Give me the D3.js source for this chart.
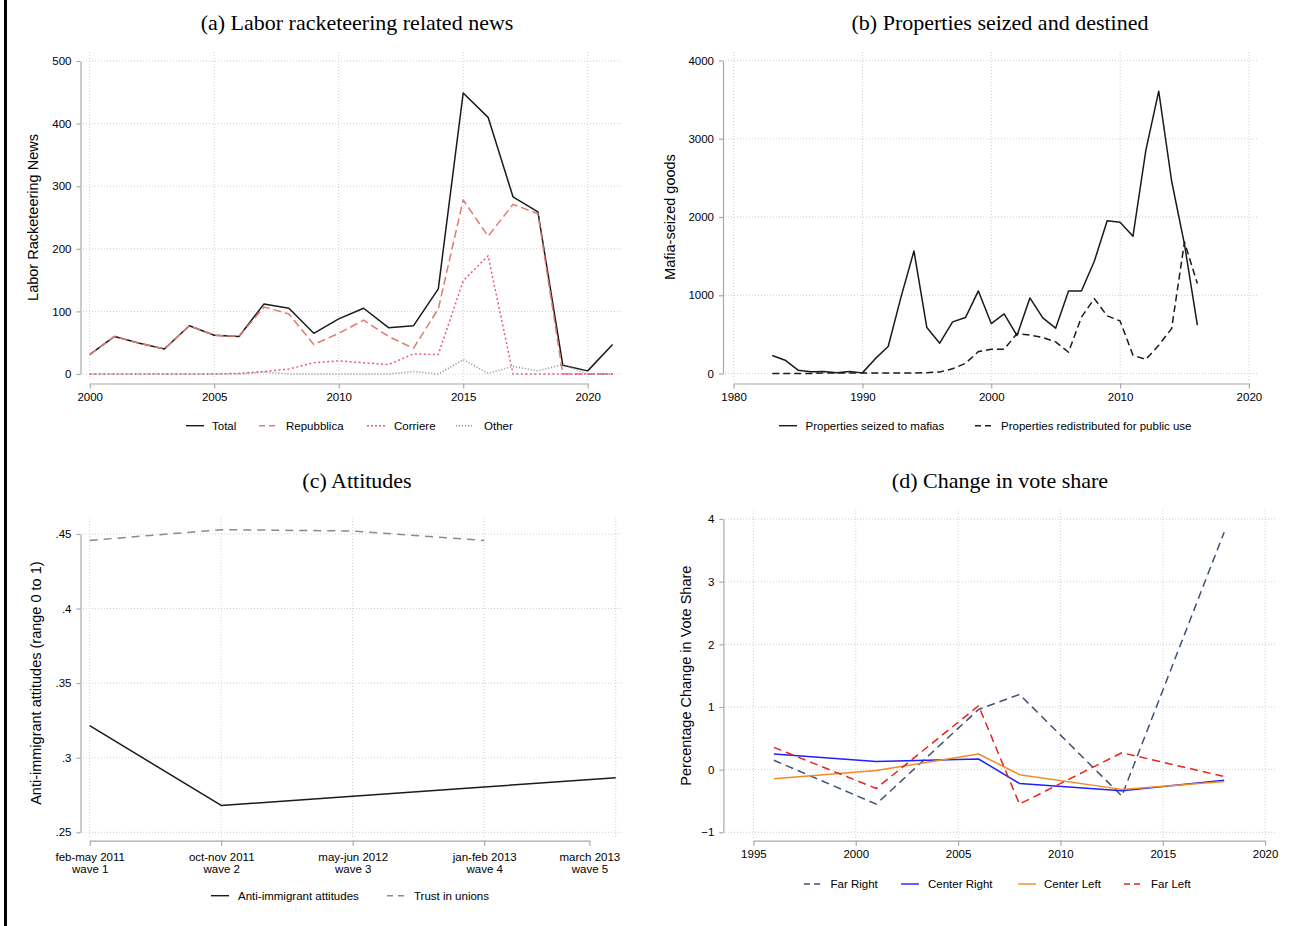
<!DOCTYPE html>
<html>
<head>
<meta charset="utf-8">
<script src="https://cdn.jsdelivr.net/npm/d3@7"></script>
<style>
  body { margin: 0; background: #fff; }
  svg text { font-family: "Liberation Sans", Arial, Helvetica, sans-serif; fill: #000; }
  .title { font-family: "Liberation Serif", "Times New Roman", serif; font-size: 22px; }
  .grid { stroke: #cfcfcf; stroke-width: 1; stroke-dasharray: 1,2; }
  .axis path, .axis line { stroke: #a8a8a8; stroke-width: 1.2; }
  .axis text { font-size: 11.5px; }
</style>
</head>
<body>
<svg id="chart" width="1292" height="926"></svg>
<script>
/* ---- data ---- */

// (a) labor racketeering news
var newsYears = [2000, 2001, 2002, 2003, 2004, 2005, 2006, 2007, 2008, 2009, 2010,
                 2011, 2012, 2013, 2014, 2015, 2016, 2017, 2018, 2019, 2020, 2021];
var newsTotal = [31, 60, 49, 40, 77, 62, 60, 112, 105, 65, 88, 105, 74, 77, 136, 449, 410, 283, 259, 14, 5, 47];
var newsRepubblica = [31, 60, 49, 40, 77, 62, 60, 107, 96, 47, 65, 86, 60, 41, 104, 278, 220, 271, 256, 0, 0, 0];
var newsCorriere = [0, 0, 0, 0, 0, 0, 1, 4, 8, 18, 21, 18, 15, 32, 31, 149, 189, 0, 0, 0, 0, 0];
var newsOther = [0, 0, 0, 0, 0, 0, 0, 3, 0, 0, 0, 0, 0, 4, 0, 23, 1, 12, 5, 15, 0, 0];
var newsXTicks = [2000, 2005, 2010, 2015, 2020];
var newsYTicks = [0, 100, 200, 300, 400, 500];

// (b) properties seized and destined
var goodsYears = [1983, 1984, 1985, 1986, 1987, 1988, 1989, 1990, 1991, 1992, 1993, 1994,
                  1995, 1996, 1997, 1998, 1999, 2000, 2001, 2002, 2003, 2004, 2005, 2006,
                  2007, 2008, 2009, 2010, 2011, 2012, 2013, 2014, 2015, 2016];
var goodsSeized = [230, 170, 43, 21, 25, 10, 25, 8, 190, 345, 980, 1566,
                   587, 387, 660, 715, 1055, 638, 762, 485, 966, 711, 579, 1055,
                   1055, 1434, 1953, 1932, 1753, 2851, 3608, 2460, 1650, 617];
var goodsRedistributed = [0, 0, 0, 0, 5, 5, 5, 5, 5, 5, 5, 5,
                          10, 20, 60, 130, 280, 310, 310, 510, 490, 460, 404, 272,
                          720, 957, 736, 672, 234, 179, 362, 574, 1681, 1149];
var goodsXTicks = [1980, 1990, 2000, 2010, 2020];
var goodsYTicks = [0, 1000, 2000, 3000, 4000];

// (c) attitudes by survey wave
var waveIndex = [1, 2, 3, 4, 5];
var waveTickPos = [1, 2, 3, 4, 4.8];
var waveLabels = [["feb-may 2011", "wave 1"], ["oct-nov 2011", "wave 2"], ["may-jun 2012", "wave 3"],
                  ["jan-feb 2013", "wave 4"], ["march 2013", "wave 5"]];
var antiImmigrant = [0.3215, 0.268, 0.2741, 0.2804, 0.2866];
var trustUnions = [0.4457, 0.4529, 0.4520, 0.4457];
var attitudeYTicks = [0.25, 0.3, 0.35, 0.4, 0.45];

// (d) change in vote share
var electionYears = [1996, 2001, 2006, 2008, 2013, 2018];
var farRight = [0.15, -0.55, 0.96, 1.20, -0.42, 3.79];
var centerRight = [0.25, 0.13, 0.17, -0.22, -0.335, -0.17];
var centerLeft = [-0.145, -0.015, 0.25, -0.08, -0.315, -0.19];
var farLeft = [0.355, -0.30, 1.02, -0.55, 0.27, -0.11];
var voteXTicks = [1995, 2000, 2005, 2010, 2015, 2020];
var voteYTicks = [-1, 0, 1, 2, 3, 4];

/* ---- helpers ---- */
var svg = d3.select('#chart');

// black rule on the left edge of the figure
svg.append('rect').attr('x', 4).attr('y', 0).attr('width', 3).attr('height', 926).attr('fill', '#000');

function makePanel(p) {
  var g = svg.append('g');

  // dotted grid
  g.append('g').selectAll('line').data(p.yTicks).enter().append('line')
    .attr('class', 'grid')
    .attr('x1', p.box[0]).attr('x2', p.box[1])
    .attr('y1', function (d) { return p.y(d); })
    .attr('y2', function (d) { return p.y(d); });
  g.append('g').selectAll('line').data(p.xGrid || p.xTicks).enter().append('line')
    .attr('class', 'grid')
    .attr('x1', function (d) { return p.x(d); })
    .attr('x2', function (d) { return p.x(d); })
    .attr('y1', p.box[2]).attr('y2', p.box[3]);

  // axes
  g.append('g').attr('class', 'axis')
    .attr('transform', 'translate(' + p.yAxisX + ',0)')
    .call(d3.axisLeft(p.y).tickValues(p.yTicks).tickSize(4).tickSizeOuter(0)
      .tickPadding(5).tickFormat(p.yFormat || d3.format('d')));
  var xa = g.append('g').attr('class', 'axis')
    .attr('transform', 'translate(0,' + p.xAxisY + ')')
    .call(d3.axisBottom(p.x).tickValues(p.xTicks).tickSize(5).tickSizeOuter(0)
      .tickPadding(4).tickFormat(p.xFormat || d3.format('d')));
  g.selectAll('.axis .domain').attr('stroke', '#a8a8a8');

  // axis title
  var yMid = (p.y.range()[0] + p.y.range()[1]) / 2;
  g.append('text')
    .attr('transform', 'translate(' + p.yTitleX + ',' + yMid + ') rotate(-90)')
    .attr('text-anchor', 'middle')
    .style('font-size', '14.5px')
    .text(p.yTitle);

  // panel title
  g.append('text').attr('class', 'title')
    .attr('x', p.titleX).attr('y', p.titleY)
    .attr('text-anchor', 'middle')
    .text(p.title);

  g.xAxis = xa;
  return g;
}

function addLine(g, p, xs, ys, color, dash, width) {
  var pts = xs.map(function (d, i) { return [d, ys[i]]; });
  var line = d3.line()
    .x(function (d) { return p.x(d[0]); })
    .y(function (d) { return p.y(d[1]); });
  g.append('path')
    .datum(pts)
    .attr('d', line)
    .attr('fill', 'none')
    .attr('stroke', color)
    .attr('stroke-width', width || 1.5)
    .attr('stroke-dasharray', dash || null)
    .attr('stroke-linejoin', 'round');
}

// legend items: [x of key line start, label, color, dash, x of text]
function addLegend(g, items, y) {
  items.forEach(function (it) {
    g.append('line')
      .attr('x1', it[0]).attr('x2', it[0] + 18)
      .attr('y1', y).attr('y2', y)
      .attr('stroke', it[2]).attr('stroke-width', 1.4)
      .attr('stroke-dasharray', it[3] || null);
    g.append('text')
      .attr('x', it[4]).attr('y', y).attr('dy', '0.35em')
      .style('font-size', '11.5px')
      .text(it[1]);
  });
}

/* ---- (a) ---- */
var pa = {
  x: d3.scaleLinear().domain([2000, 2020]).range([89.7, 587.7]),
  y: d3.scaleLinear().domain([0, 500]).range([374, 61]),
  xTicks: newsXTicks, yTicks: newsYTicks,
  box: [83, 621, 52, 381],
  yAxisX: 80.5, xAxisY: 383.5,
  yTitle: 'Labor Racketeering News', yTitleX: 38,
  title: '(a) Labor racketeering related news', titleX: 357, titleY: 30
};
var ga = makePanel(pa);
// drawn in the order of the legend, so later series sit on top
addLine(ga, pa, newsYears, newsTotal, '#1a1a1a');
addLine(ga, pa, newsYears, newsRepubblica, '#e07b6e', '8,4');
addLine(ga, pa, newsYears, newsCorriere, '#e8559a', '2,2.5');
addLine(ga, pa, newsYears, newsOther, '#8a8a8a', '1,2');
addLegend(ga, [
  [186, 'Total', '#1a1a1a', null, 212],
  [259, 'Repubblica', '#e07b6e', '6,4', 286],
  [367, 'Corriere', '#e8559a', '2,2', 394],
  [456, 'Other', '#8a8a8a', '1,2', 484]
], 425.7);

/* ---- (b) ---- */
var pb = {
  x: d3.scaleLinear().domain([1980, 2020]).range([733.6, 1248.9]),
  y: d3.scaleLinear().domain([0, 4000]).range([373.5, 60.5]),
  xTicks: goodsXTicks, yTicks: goodsYTicks,
  box: [725, 1258, 52, 381],
  yAxisX: 723, xAxisY: 383.5,
  yTitle: 'Mafia-seized goods', yTitleX: 675,
  title: '(b) Properties seized and destined', titleX: 1000, titleY: 30
};
var gb = makePanel(pb);
addLine(gb, pb, goodsYears, goodsSeized, '#1a1a1a');
addLine(gb, pb, goodsYears, goodsRedistributed, '#1a1a1a', '7,4');
addLegend(gb, [
  [779, 'Properties seized to mafias', '#1a1a1a', null, 805.5],
  [975, 'Properties redistributed for public use', '#1a1a1a', '6,4', 1001]
], 425.7);

/* ---- (c) ---- */
var pc = {
  x: d3.scaleLinear().domain([1, 4.8]).range([89.7, 89.7 + 3.8 * 131.5]),
  y: d3.scaleLinear().domain([0.25, 0.45]).range([832.3, 534]),
  xTicks: waveTickPos, xGrid: waveIndex, yTicks: attitudeYTicks,
  box: [83, 621, 518, 838],
  yAxisX: 80.5, xAxisY: 840.7,
  yFormat: function (d) { return d3.format('.2~f')(d).replace(/^0/, ''); },
  xFormat: function (d, i) { return ''; },
  yTitle: 'Anti-immigrant attitudes (range 0 to 1)', yTitleX: 41,
  title: '(c) Attitudes', titleX: 357, titleY: 487.5
};
var gc = makePanel(pc);
// two-line wave labels
gc.xAxis.selectAll('.tick text').each(function (d, i) {
  var t = d3.select(this).text('').attr('dy', null);
  t.append('tspan').attr('x', 0).attr('dy', '1.0em').text(waveLabels[i][0]);
  t.append('tspan').attr('x', 0).attr('dy', '1.0em').text(waveLabels[i][1]);
});
addLine(gc, pc, waveIndex, antiImmigrant, '#1a1a1a');
addLine(gc, pc, waveIndex.slice(0, trustUnions.length), trustUnions, '#8a8a8a', '8,6');
addLegend(gc, [
  [211, 'Anti-immigrant attitudes', '#1a1a1a', null, 238],
  [387, 'Trust in unions', '#8a8a8a', '6,5', 414]
], 895.7);

/* ---- (d) ---- */
var pd = {
  x: d3.scaleLinear().domain([1995, 2020]).range([753.4, 1265.1]),
  y: d3.scaleLinear().domain([-1, 4]).range([832.3, 519]),
  xTicks: voteXTicks, yTicks: voteYTicks,
  box: [725, 1275, 510, 838],
  yAxisX: 723.4, xAxisY: 840.7,
  yTitle: 'Percentage Change in Vote Share', yTitleX: 691,
  title: '(d) Change in vote share', titleX: 1000, titleY: 487.5
};
var gd = makePanel(pd);
addLine(gd, pd, electionYears, farRight, '#3d5275', '8,5');
addLine(gd, pd, electionYears, centerRight, '#1f1fff');
addLine(gd, pd, electionYears, centerLeft, '#f08a24');
addLine(gd, pd, electionYears, farLeft, '#e8231e', '8,5');
addLegend(gd, [
  [804, 'Far Right', '#3d5275', '6,4', 830.5],
  [901, 'Center Right', '#1f1fff', null, 928],
  [1018, 'Center Left', '#f08a24', null, 1044],
  [1124, 'Far Left', '#e8231e', '6,4', 1151]
], 884);
</script>
</body>
</html>
